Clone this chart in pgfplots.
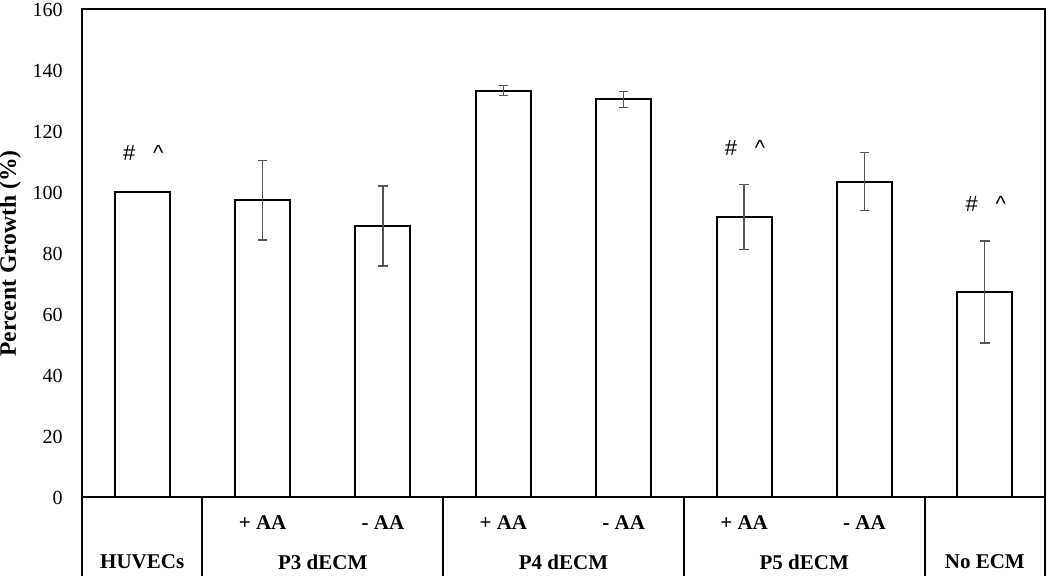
\documentclass[border=0pt]{standalone}
\usepackage{pgfplots}
\usepackage{pgfplotstable}
\pgfplotsset{compat=1.18}
\usepackage{fontspec}
\setmainfont{Liberation Serif}
\newfontfamily\marksfont{Liberation Sans}
\definecolor{errgray}{HTML}{555555}

\pgfplotstableread{
x y e
1 97.5 13.1
2 89.0 13.1
3 133.4 1.7
4 130.5 2.7
5 92.0 10.7
6 103.6 9.5
7 67.4 16.7
}\errdata

\begin{document}
\begin{tikzpicture}
\useasboundingbox (-41pt,-39.25pt) rectangle (484pt,248.75pt);
\begin{axis}[
  at={(0pt,0pt)}, anchor=south west,
  scale only axis, width=481.5pt, height=244pt,
  xmin=-0.5, xmax=7.5, ymin=0, ymax=160,
  ytick={0,20,...,160}, xtick={0,...,7},
  xticklabels={{},{+ AA},{- AA},{+ AA},{- AA},{+ AA},{- AA},{}},
  major tick length=0pt,
  axis line style={line width=1pt},
  clip=false,
  /pgf/number format/assume math mode=true,
  yticklabel style={font=\fontsize{10}{12}\selectfont, xshift=-6.2pt},
  xticklabel style={anchor=center, yshift=-12.75pt, font=\bfseries\fontsize{10.5}{12}\selectfont},
  ylabel={Percent Growth (\%)},
  ylabel style={at={(axis description cs:-0.0745,0.5)}, anchor=center, font=\bfseries\fontsize{11.8}{13}\selectfont},
]
\addplot[ybar, bar shift=0pt, bar width=0.457, fill=white, draw=black, line width=1pt] coordinates {(0,100)};
\addplot[ybar, bar shift=0pt, bar width=0.457, fill=white, draw=black, line width=1pt,
  error bars/.cd, y dir=both, y explicit,
  error bar style={errgray, line width=0.65pt},
  error mark options={errgray, line width=0.65pt, mark size=2.35pt, rotate=90}]
  table[x=x, y=y, y error=e] {\errdata};

% significance marks
\node[anchor=base, xshift=-6.5pt, font=\marksfont\fontsize{11}{13}\selectfont] at (axis cs:0,110.6) {\#};
\node[anchor=base, xshift=8pt, font=\marksfont\fontsize{11}{13}\selectfont] at (axis cs:0,110.6) {\textasciicircum};
\node[anchor=base, xshift=-6.5pt, font=\marksfont\fontsize{11}{13}\selectfont] at (axis cs:5,112) {\#};
\node[anchor=base, xshift=8pt, font=\marksfont\fontsize{11}{13}\selectfont] at (axis cs:5,112) {\textasciicircum};
\node[anchor=base, xshift=-6.5pt, font=\marksfont\fontsize{11}{13}\selectfont] at (axis cs:7,93.9) {\#};
\node[anchor=base, xshift=8pt, font=\marksfont\fontsize{11}{13}\selectfont] at (axis cs:7,93.9) {\textasciicircum};

% category table
\pgfplotsinvokeforeach{-0.5,0.5,2.5,4.5,6.5,7.5}{
  \draw[line width=1pt] (axis cs:#1,0) -- ++(0pt,-39.25pt);
}
\node[font=\bfseries\fontsize{10.5}{12}\selectfont, yshift=-32.25pt] at (axis cs:0,0) {HUVECs};
\node[font=\bfseries\fontsize{10.5}{12}\selectfont, yshift=-32.25pt] at (axis cs:1.5,0) {P3 dECM};
\node[font=\bfseries\fontsize{10.5}{12}\selectfont, yshift=-32.25pt] at (axis cs:3.5,0) {P4 dECM};
\node[font=\bfseries\fontsize{10.5}{12}\selectfont, yshift=-32.25pt] at (axis cs:5.5,0) {P5 dECM};
\node[font=\bfseries\fontsize{10.5}{12}\selectfont, yshift=-32.25pt] at (axis cs:7,0) {No ECM};
\end{axis}
\end{tikzpicture}
\end{document}
